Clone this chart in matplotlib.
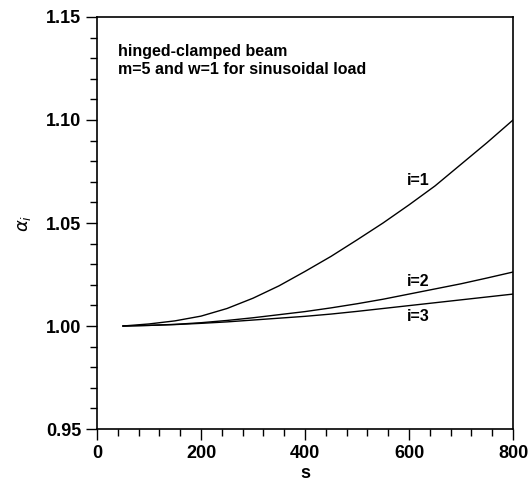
import matplotlib
matplotlib.use("Agg")
import matplotlib.pyplot as plt
from matplotlib.ticker import MultipleLocator

plt.rcParams['font.family'] = ['Liberation Sans', 'DejaVu Sans']

s = [50, 100, 150, 200, 250, 300, 350, 400, 450, 500, 550, 600, 650, 700, 750, 800]
alpha_1 = [1.000, 1.0010, 1.0025, 1.0048, 1.0085, 1.0135, 1.0195, 1.0265,
           1.0338, 1.0418, 1.0500, 1.0588, 1.0680, 1.0785, 1.0890, 1.1000]
alpha_2 = [1.000, 1.0003, 1.0008, 1.0016, 1.0027, 1.0040, 1.0055, 1.0070,
           1.0088, 1.0108, 1.0130, 1.0155, 1.0180, 1.0205, 1.0233, 1.0262]
alpha_3 = [1.000, 1.0003, 1.0007, 1.0013, 1.0020, 1.0029, 1.0038, 1.0047,
           1.0058, 1.0071, 1.0085, 1.0099, 1.0113, 1.0127, 1.0141, 1.0155]

curves = [alpha_1, alpha_2, alpha_3]
labels = ["i=1", "i=2", "i=3"]
label_pos = [(617, 1.0704), (617, 1.0218), (617, 1.0044)]


def main():
    fig = plt.figure(figsize=(5.29, 4.84), dpi=100)
    ax = fig.add_axes([0.1834, 0.1136, 0.7864, 0.8513])

    for y, lab, (lx, ly) in zip(curves, labels, label_pos):
        ax.plot(s, y, color="black", lw=1.0)
        ax.text(lx, ly, lab, fontsize=11.5, fontweight="bold", ha="center", va="center")

    ax.set_xlim(0, 800)
    ax.set_ylim(0.95, 1.15)
    ax.xaxis.set_major_locator(MultipleLocator(200))
    ax.xaxis.set_minor_locator(MultipleLocator(40))
    ax.yaxis.set_major_locator(MultipleLocator(0.05))
    ax.yaxis.set_minor_locator(MultipleLocator(0.01))
    ax.yaxis.set_major_formatter(plt.FormatStrFormatter("%.2f"))
    ax.tick_params(which="major", length=8, width=1.0, direction="out",
                   labelsize=13)
    ax.tick_params(which="minor", length=5, width=1.0, direction="out")
    for lbl in ax.get_xticklabels() + ax.get_yticklabels():
        lbl.set_fontweight("bold")
    for sp in ax.spines.values():
        sp.set_linewidth(1.2)

    ax.set_xlabel("s", fontsize=13, fontweight="bold", labelpad=2)
    ax.set_ylabel(r"$\alpha_i$", fontsize=13, labelpad=9)

    ax.text(0.05, 0.935, "hinged-clamped beam\nm=5 and w=1 for sinusoidal load",
            transform=ax.transAxes, fontsize=11.5, fontweight="bold",
            va="top", ha="left", linespacing=1.3)

    fig.savefig("out.png", dpi=100)


if __name__ == "__main__":
    main()
